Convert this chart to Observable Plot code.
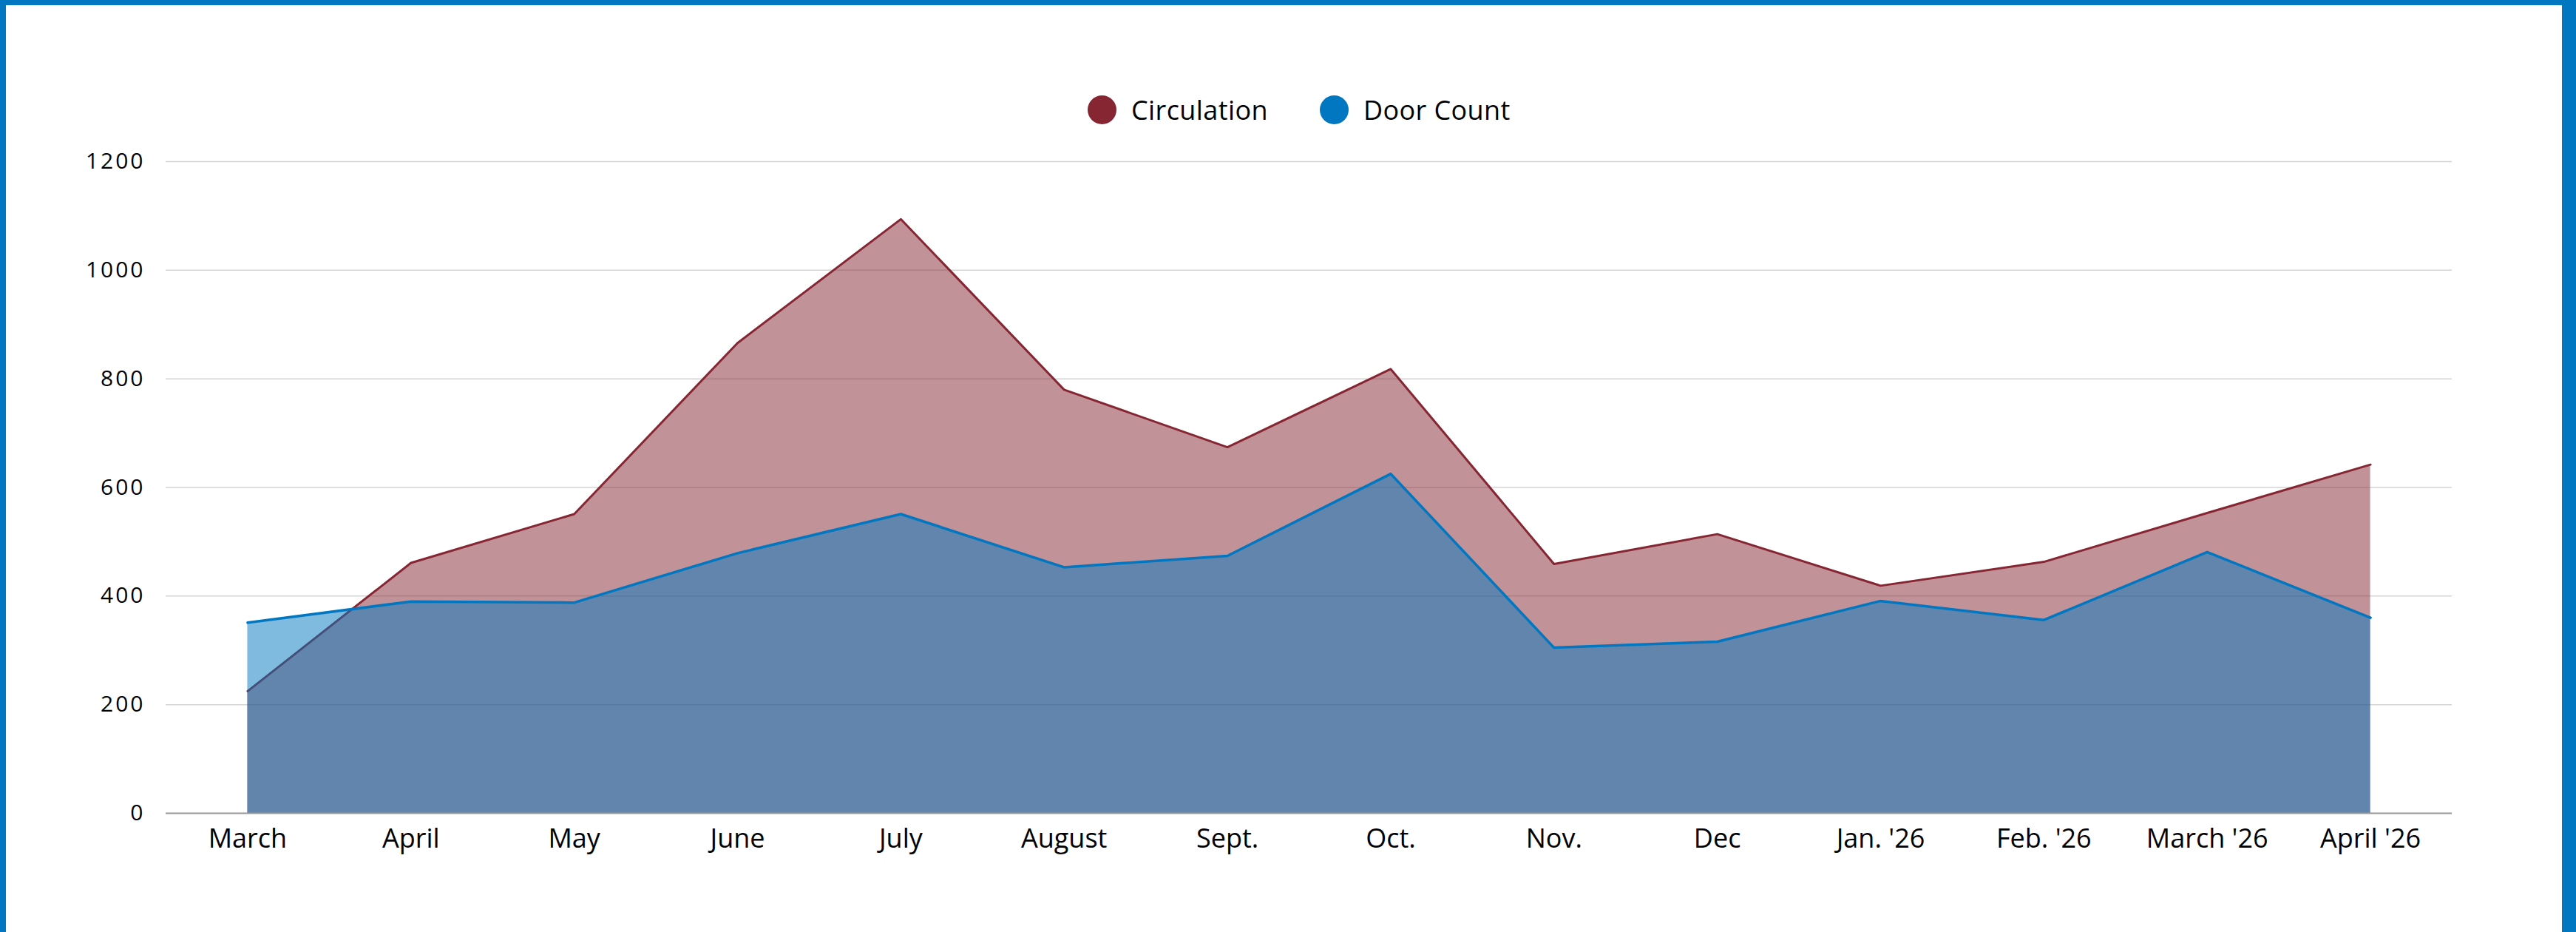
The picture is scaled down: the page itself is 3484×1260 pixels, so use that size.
<!DOCTYPE html>
<html><head><meta charset="utf-8">
<script src="https://cdn.jsdelivr.net/npm/d3@7"></script>
<script src="https://cdn.jsdelivr.net/npm/@observablehq/plot@0.6"></script>
<style>
html,body{margin:0;padding:0;background:#fff;width:3484px;height:1260px;overflow:hidden;font-family:"Open Sans",sans-serif;}
#frame{position:absolute;left:0;top:0;width:3484px;height:1400px;box-sizing:border-box;border-left:8px solid #0077C0;border-top:7px solid #0077C0;border-right:19px solid #0077C0;}
#legend{position:absolute;top:129px;left:1471px;display:flex;align-items:center;font-size:36px;color:#000;line-height:39px;letter-spacing:0.4px;}
.item{display:flex;align-items:center;}
.item + .item{margin-left:70px;}
.sw{width:39px;height:39px;border-radius:50%;margin-right:20px;}
#chart{position:absolute;left:0;top:190px;}
#chart svg [aria-label="y-axis tick label"] text{letter-spacing:3px;}
</style></head>
<body><div id="frame"></div><div id="legend"></div><div id="chart"></div>
<script>
const months = ["March","April","May","June","July","August","Sept.","Oct.","Nov.","Dec","Jan. '26","Feb. '26","March '26","April '26"];
const circulation = [225,461,551,866,1094,780,674,818,459,514,419,463,553,642];
const doorCount = [351,390,388,479,551,453,474,625,305,316,391,356,481,360];
const yTicks = [0,200,400,600,800,1000,1200];
const seriesNames = ["Circulation","Door Count"];
const seriesColors = ["#862633","#0077C0"];

const legend = document.getElementById("legend");
seriesNames.forEach((name,i)=>{
  const it = document.createElement("div"); it.className="item";
  const sw = document.createElement("div"); sw.className="sw"; sw.style.background=seriesColors[i];
  const tx = document.createElement("span"); tx.textContent=name;
  it.appendChild(sw); it.appendChild(tx); legend.appendChild(it);
});

const circData = months.map((m,i)=>({month:m, value:circulation[i]}));
const doorData = months.map((m,i)=>({month:m, value:doorCount[i]}));

const plot = Plot.plot({
  width: 3484, height: 1000,
  marginLeft: 224, marginRight: 168, marginTop: 28, marginBottom: 91,
  x: {type:"point", domain: months, padding: 0.5, round: false, label: null},
  y: {domain:[0,1200], label:null},
  style: {fontFamily: "'Open Sans', sans-serif", fontSize: "36px", background:"transparent", color:"#000"},
  marks: [
    Plot.gridY(yTicks, {stroke:"#d4d4d4", strokeOpacity:1, strokeWidth:1.5}),
    Plot.areaY(circData, {x:"month", y:"value", fill: seriesColors[0], fillOpacity:0.5}),
    Plot.lineY(circData, {x:"month", y:"value", stroke: seriesColors[0], strokeWidth:3}),
    Plot.areaY(doorData, {x:"month", y:"value", fill: seriesColors[1], fillOpacity:0.5}),
    Plot.lineY(doorData, {x:"month", y:"value", stroke: seriesColors[1], strokeWidth:3.5}),
    Plot.ruleY([0], {stroke:"#9a9a9a", strokeWidth:2}),
    Plot.axisX({tickSize:0, tickPadding:21, fontSize:36, label:null}),
    Plot.axisY(yTicks, {tickSize:0, tickPadding:28, fontSize:30, tickFormat: d => String(d), label:null})
  ]
});
document.getElementById("chart").appendChild(plot);
</script>
</body></html>
